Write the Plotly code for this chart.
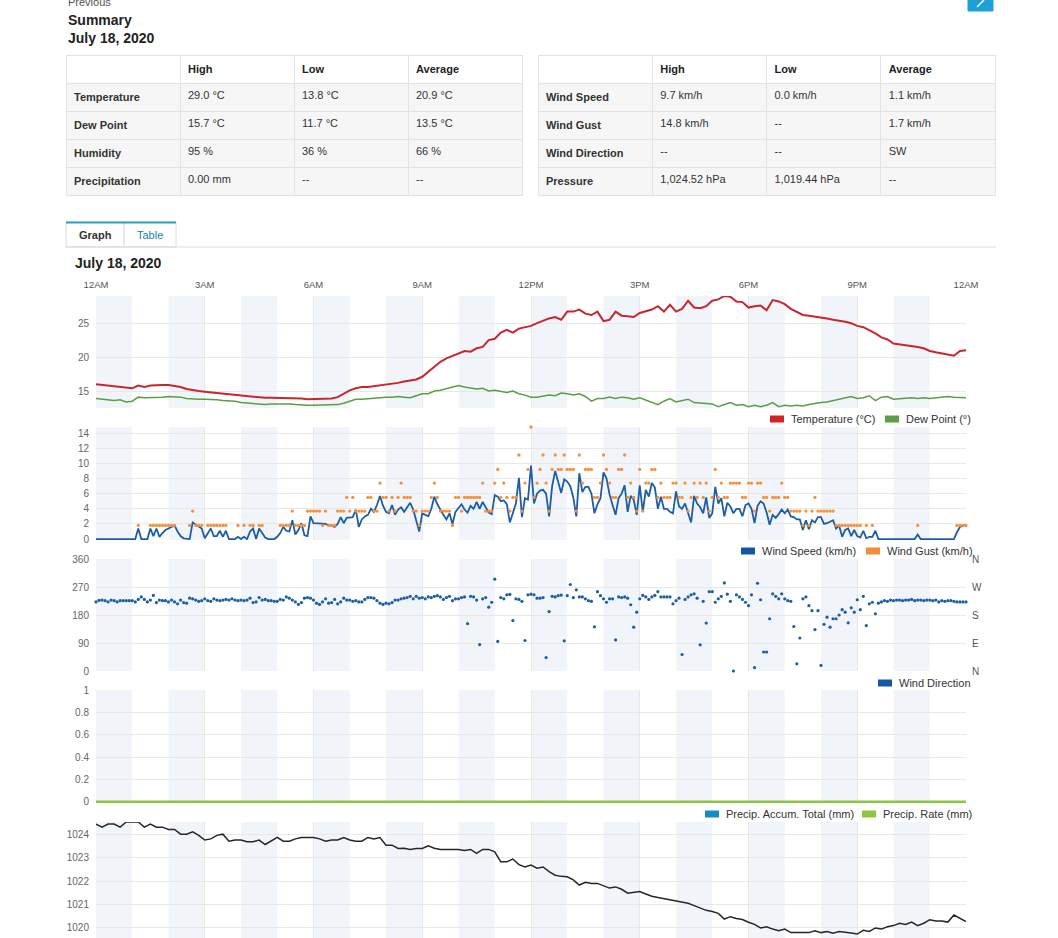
import pandas as pd
import plotly.graph_objects as go

W, H = 1058, 938
FONT = "Liberation Sans, Arial, sans-serif"


def px(x):
    return x / W


def py(y):
    return 1 - y / H


# ---- summary tables ----
left_names = ["Temperature", "Dew Point", "Humidity", "Precipitation"]
left_high = ["29.0 °C", "15.7 °C", "95 %", "0.00 mm"]
left_low = ["13.8 °C", "11.7 °C", "36 %", "--"]
left_avg = ["20.9 °C", "13.5 °C", "66 %", "--"]

right_names = ["Wind Speed", "Wind Gust", "Wind Direction", "Pressure"]
right_high = ["9.7 km/h", "14.8 km/h", "--", "1,024.52 hPa"]
right_low = ["0.0 km/h", "--", "--", "1,019.44 hPa"]
right_avg = ["1.1 km/h", "1.7 km/h", "SW", "--"]

# ---- 10 minute series (00:00 .. 24:00) ----
temperature = [
    16.0, 15.9, 15.8, 15.7, 15.6, 15.5,
    15.4, 15.8, 15.6, 15.8, 15.9, 15.9,
    15.9, 15.8, 15.6, 15.3, 15.1, 15.0,
    14.9, 14.8, 14.7, 14.6, 14.5, 14.4,
    14.3, 14.2, 14.2, 14.1, 14.0, 14.0,
    14.0, 13.9, 13.9, 13.9, 13.9, 13.8,
    13.8, 13.8, 13.8, 13.9, 14.1, 14.6,
    15.1, 15.4, 15.6, 15.6, 15.7, 15.9,
    15.9, 16.0, 16.2, 16.4, 16.5, 16.7,
    17.1, 17.8, 18.5, 19.3, 19.8, 20.2,
    20.6, 20.9, 20.8, 21.3, 21.5, 22.5,
    22.7, 23.6, 24.0, 23.6, 24.2, 24.4,
    24.6, 25.0, 25.4, 25.7, 25.9, 25.5,
    26.7, 26.7, 27.0, 26.4, 26.2, 26.7,
    25.3, 25.5, 26.7, 26.1, 26.0, 25.9,
    26.5, 26.8, 27.0, 27.5, 26.7, 27.7,
    26.7, 27.1, 28.3, 27.3, 27.2, 27.5,
    28.3, 28.5, 29.0, 28.9, 28.2, 28.1,
    27.3, 27.5, 27.6, 26.9, 28.4, 28.2,
    27.8, 27.1, 26.6, 26.2, 26.1, 26.0,
    25.9, 25.7, 25.5, 25.4, 25.2, 25.0,
    24.6, 24.4, 24.0, 23.5, 22.9, 22.6,
    22.0, 21.9, 21.8, 21.7, 21.5, 21.3,
    20.9, 20.7, 20.5, 20.3, 20.2, 20.9,
    21.0,
]

dew_point = [
    13.9, 13.8, 13.7, 13.6, 13.7, 13.4,
    13.5, 14.1, 14.0, 14.0, 14.0, 14.1,
    14.2, 14.2, 14.1, 13.9, 13.8, 13.8,
    13.8, 13.8, 13.7, 13.6, 13.6, 13.5,
    13.3, 13.2, 13.2, 13.1, 13.0, 13.1,
    13.1, 13.2, 13.1, 13.0, 12.9, 12.9,
    12.9, 12.9, 12.9, 12.9, 13.0, 13.2,
    13.5, 13.8, 13.8, 13.9, 14.0, 14.0,
    14.1, 14.1, 14.2, 14.1, 14.0, 14.3,
    14.6, 14.6, 15.0, 15.1, 15.3, 15.5,
    15.8, 15.6, 15.5, 15.3, 15.4, 15.0,
    15.1, 14.9, 14.8, 15.0, 14.6, 14.4,
    14.1, 14.1, 14.3, 14.4, 14.3, 14.7,
    14.6, 14.4, 14.6, 14.2, 13.5, 13.9,
    13.9, 14.1, 13.9, 14.1, 14.0, 13.8,
    14.0, 13.7, 13.4, 13.0, 13.5, 13.9,
    13.4, 13.6, 13.8, 13.3, 13.2, 13.1,
    13.1, 12.7, 13.0, 13.3, 12.9, 13.0,
    12.7, 12.9, 12.7, 12.9, 13.3, 12.7,
    12.9, 12.8, 12.9, 12.8, 13.0, 13.2,
    13.3, 13.4, 13.6, 13.8, 13.9, 14.2,
    13.9, 14.0, 14.3, 13.6, 14.1, 14.2,
    13.8, 13.9, 13.9, 14.0, 13.9, 14.0,
    13.9, 14.0, 14.1, 14.2, 14.1, 14.0,
    14.0,
]

pressure = [
    1024.43, 1024.30, 1024.43, 1024.43, 1024.30, 1024.52,
    1024.52, 1024.52, 1024.30, 1024.43, 1024.30, 1024.30,
    1024.20, 1024.20, 1024.00, 1024.00, 1024.10, 1023.95,
    1023.75, 1023.80, 1023.95, 1024.00, 1023.70, 1023.75,
    1023.75, 1023.68, 1023.68, 1023.75, 1023.56, 1023.70,
    1023.86, 1023.70, 1023.70, 1023.80, 1023.86, 1023.86,
    1023.86, 1023.80, 1023.70, 1023.75, 1023.75, 1023.86,
    1023.75, 1023.70, 1023.70, 1023.86, 1023.80, 1023.86,
    1023.53, 1023.53, 1023.39, 1023.40, 1023.35, 1023.39,
    1023.39, 1023.50, 1023.40, 1023.35, 1023.35, 1023.35,
    1023.35, 1023.30, 1023.35, 1023.18, 1023.35, 1023.35,
    1023.25, 1022.82, 1022.82, 1022.94, 1022.70, 1022.60,
    1022.68, 1022.55, 1022.60, 1022.40, 1022.25, 1022.20,
    1022.18, 1022.05, 1021.83, 1021.95, 1021.90, 1021.90,
    1021.80, 1021.70, 1021.75, 1021.65, 1021.48, 1021.50,
    1021.55, 1021.45, 1021.35, 1021.30, 1021.25, 1021.20,
    1021.12, 1021.10, 1021.05, 1020.95, 1020.85, 1020.75,
    1020.70, 1020.62, 1020.38, 1020.48, 1020.40, 1020.36,
    1020.24, 1020.15, 1020.00, 1020.05, 1019.95, 1019.88,
    1019.95, 1019.80, 1019.80, 1019.80, 1019.80, 1019.88,
    1019.80, 1019.85, 1019.77, 1019.85, 1019.80, 1019.78,
    1019.74, 1019.90, 1019.85, 1020.00, 1019.95, 1020.05,
    1020.10, 1020.20, 1020.15, 1020.25, 1020.10, 1020.20,
    1020.35, 1020.30, 1020.30, 1020.25, 1020.55, 1020.40,
    1020.27,
]

# ---- 5 minute series (00:00 .. 24:00) ----
wind_speed = [
    0, 0, 0, 0, 0, 0, 0, 0, 0, 0, 0, 0,
    0, 0, 1.4, 0, 0, 0, 1.4, 0.4, 1.4, 0.3, 0.8, 1.2,
    1.4, 1.6, 1.8, 1.0, 0.4, 0.1, 0, 0, 2.2, 1.9, 1.6, 1.4,
    0.1, 0.7, 1.4, 0.4, 0.4, 1.1, 0.3, 1.1, 0, 0, 0, 0.3,
    0, 0.3, 0, 1.0, 1.4, 0, 1.4, 0.8, 0.2, 0, 0, 0,
    0.3, 0.8, 1.6, 1.1, 1.0, 2.5, 0.6, 1.2, 2.1, 0.5, 0.4, 3.0,
    2.1, 2.1, 2.1, 2.1, 2.0, 1.8, 1.8, 1.6, 2.0, 2.9, 2.1, 2.8,
    2.9, 2.9, 3.9, 1.6, 2.6, 3.0, 3.2, 4.0, 3.6, 4.5, 5.7, 4.4,
    3.6, 3.4, 4.5, 3.2, 3.9, 4.2, 3.6, 4.2, 4.8, 3.9, 2.6, 1.0,
    3.4, 3.2, 3.0, 4.0, 5.6, 4.6, 3.8, 3.2, 2.6, 3.4, 2.0, 3.6,
    4.1, 4.6, 3.9, 3.5, 4.4, 4.0, 4.9, 4.0, 4.9, 4.2, 3.5, 3.3,
    5.8, 5.6, 5.0, 5.1, 4.6, 2.2, 3.4, 4.7, 8.1, 2.9, 5.4, 5.2,
    9.7, 4.7, 6.0, 6.4, 6.5, 6.0, 3.0, 7.0, 9.0, 7.6, 6.1, 7.9,
    7.6, 7.0, 5.5, 3.0, 8.7, 6.2, 6.9, 6.9, 6.0, 3.4, 4.6, 5.4,
    8.8, 8.0, 5.9, 4.5, 3.2, 5.4, 6.0, 7.1, 3.6, 5.7, 5.2, 3.2,
    7.1, 3.6, 6.5, 5.6, 7.4, 6.8, 4.0, 5.6, 4.0, 4.0, 3.6, 3.4,
    6.3, 4.3, 4.0, 4.7, 3.5, 2.2, 5.7, 4.7, 4.2, 3.4, 5.5, 2.8,
    3.4, 6.9, 4.7, 5.4, 3.0, 4.8, 4.3, 3.4, 4.0, 4.0, 3.0, 4.5,
    4.7, 4.0, 2.1, 4.4, 5.0, 4.7, 3.5, 1.9, 3.2, 2.8, 3.3, 3.9,
    3.4, 3.9, 3.0, 2.9, 2.6, 2.6, 1.2, 2.5, 1.3, 2.5, 2.2, 2.9,
    2.9, 2.0, 2.1, 2.3, 2.5, 1.4, 1.8, 0.3, 1.2, 1.4, 0.4, 1.2,
    0.4, 0.2, 1.1, 0.1, 0.3, 0.3, 1.1, 0, 0, 0, 0, 0,
    0, 0, 0, 0, 0, 0, 0, 0, 0.6, 0, 0, 0,
    0, 0, 0, 0, 0, 0, 0, 0, 0, 0.9, 1.6, 1.8,
    1.8,
]

N = None
wind_gust = [
    N, N, N, N, N, N, N, N, N, N, N, N,
    N, N, 1.8, N, N, N, 1.8, 1.8, 1.8, 1.8, 1.8, 1.8,
    1.8, 1.8, 1.8, N, N, N, N, 1.8, 3.7, 1.8, 1.8, 1.8,
    N, 1.8, 1.8, 1.8, 1.8, 1.8, 1.8, 1.8, N, N, N, 1.8,
    N, 1.8, N, 1.8, 1.8, N, 1.8, 1.8, N, N, N, N,
    N, 1.8, 1.8, 1.8, 1.8, 3.7, 1.8, 1.8, 1.8, 1.8, 3.7, 3.7,
    3.7, 3.7, 3.7, 1.8, 3.7, 1.8, 1.8, 1.8, 3.7, 3.7, 3.7, 5.5,
    3.7, 5.5, 3.7, 3.7, 3.7, 3.7, 5.5, 5.5, 3.7, 3.7, 7.4, 5.5,
    5.5, 3.7, 5.5, 3.7, 5.5, 7.4, 5.5, 5.5, 5.5, 3.7, 3.7, 1.8,
    3.7, 3.7, 3.7, 5.5, 7.4, 5.5, 3.7, 3.7, 3.7, 3.7, 1.8, 5.5,
    5.5, 3.7, 5.5, 5.5, 5.5, 5.5, 5.5, 5.5, 7.4, 3.7, 3.7, 3.7,
    7.4, 9.2, 5.5, 7.4, 5.5, 3.7, 5.5, 5.5, 11.1, 3.7, 7.4, 9.2,
    14.8, 5.5, 7.4, 9.2, 11.1, 7.4, 3.7, 9.2, 11.1, 9.2, 9.2, 11.1,
    9.2, 9.2, 9.2, 3.7, 11.1, 7.4, 9.2, 9.2, 9.2, 5.5, 5.5, 7.4,
    11.1, 9.2, 7.4, 5.5, 5.5, 9.2, 9.2, 11.1, 5.5, 7.4, 5.5, 3.7,
    9.2, 3.7, 7.4, 7.4, 9.2, 9.2, 5.5, 7.4, 5.5, 5.5, 5.5, 7.4,
    7.4, 5.5, 5.5, 7.4, 3.7, 5.5, 7.4, 5.5, 7.4, 5.5, 7.4, 3.7,
    5.5, 9.2, 5.5, 7.4, 5.5, 5.5, 7.4, 7.4, 7.4, 7.4, 5.5, 5.5,
    7.4, 7.4, 3.7, 7.4, 7.4, 5.5, 5.5, 3.7, 5.5, 5.5, 5.5, 7.4,
    5.5, 5.5, 3.7, 3.7, 3.7, 3.7, 1.8, 3.7, 1.8, 3.7, 5.5, 3.7,
    3.7, 3.7, 3.7, 3.7, 3.7, 1.8, 1.8, 1.8, 1.8, 1.8, 1.8, 1.8,
    1.8, 1.8, N, 1.8, N, 1.8, N, N, N, N, N, N,
    N, N, N, N, N, N, N, N, 1.8, N, N, N,
    N, N, N, N, N, N, N, N, N, 1.8, 1.8, 1.8,
    1.8,
]

wind_dir = [
    222, 227, 228, 226, 222, 228, 226, 222, 226, 226, 226, 226,
    226, 222, 230, 238, 230, 222, 228, 243, 220, 228, 226, 226,
    222, 228, 222, 216, 228, 220, 218, 234, 232, 228, 224, 226,
    232, 226, 224, 232, 228, 226, 228, 230, 228, 232, 228, 226,
    228, 226, 228, 234, 220, 222, 236, 228, 230, 226, 226, 224,
    224, 230, 228, 238, 234, 228, 222, 214, 220, 234, 236, 234,
    228, 218, 214, 222, 232, 218, 220, 230, 216, 222, 234, 228,
    228, 224, 226, 222, 222, 230, 236, 236, 234, 226, 218, 214,
    218, 216, 220, 228, 228, 232, 234, 236, 240, 232, 240, 234,
    236, 232, 238, 236, 240, 242, 238, 230, 236, 240, 226, 232,
    232, 236, 238, 152, 240, 238, 228, 85, 232, 236, 205, 221,
    295, 95, 236, 232, 245, 246, 162, 232, 230, 224, 98, 245,
    247, 245, 234, 234, 236, 43, 191, 240, 238, 242, 244, 97,
    242, 278, 236, 261, 238, 238, 232, 226, 224, 142, 255, 242,
    232, 221, 232, 232, 100, 238, 236, 238, 234, 213, 141, 189,
    232, 243, 238, 230, 238, 243, 255, 238, 238, 238, 238, 216,
    226, 234, 53, 230, 238, 245, 248, 234, 84, 224, 154, 255,
    255, 221, 232, 240, 283, 247, 224, 0, 245, 238, 230, 221,
    210, 245, 11, 282, 229, 61, 61, 168, 248, 240, 232, 248,
    232, 226, 224, 143, 23, 106, 232, 238, 210, 194, 133, 194,
    18, 150, 173, 141, 168, 168, 180, 197, 189, 155, 203, 189,
    229, 197, 240, 146, 216, 221, 184, 218, 222, 226, 224, 228,
    226, 228, 228, 226, 228, 228, 230, 226, 228, 228, 226, 228,
    228, 226, 228, 222, 226, 224, 226, 226, 224, 222, 222, 222,
    222,
]

# hourly precipitation (all zero)
precip_total = [0.00, 0.00, 0.00, 0.00, 0.00, 0.00, 0.00, 0.00, 0.00, 0.00, 0.00, 0.00, 0.00,
                0.00, 0.00, 0.00, 0.00, 0.00, 0.00, 0.00, 0.00, 0.00, 0.00, 0.00, 0.00]
precip_rate = [0.00, 0.00, 0.00, 0.00, 0.00, 0.00, 0.00, 0.00, 0.00, 0.00, 0.00, 0.00, 0.00,
               0.00, 0.00, 0.00, 0.00, 0.00, 0.00, 0.00, 0.00, 0.00, 0.00, 0.00, 0.00]

t10 = pd.date_range("2020-07-18 00:00", periods=len(temperature), freq="10min")
t5 = pd.date_range("2020-07-18 00:00", periods=len(wind_speed), freq="5min")
t60 = pd.date_range("2020-07-18 00:00", periods=len(precip_rate), freq="60min")
day0 = pd.Timestamp("2020-07-18 00:00")
day1 = pd.Timestamp("2020-07-19 00:00")

fig = go.Figure()


def summary_table(x0, x1, names, high, low, avg):
    return go.Table(
        domain=dict(x=[px(x0), px(x1)], y=[py(200), py(55)]),
        header=dict(values=["", "<b>High</b>", "<b>Low</b>", "<b>Average</b>"],
                    align="left", height=28, fill_color="white",
                    line=dict(color="#e2e2e2", width=1),
                    font=dict(family=FONT, size=11, color="#222")),
        cells=dict(values=[["<b>%s</b>" % n for n in names], high, low, avg],
                   align="left", height=28, fill_color="#f6f6f6",
                   line=dict(color="#e2e2e2", width=1),
                   font=dict(family=FONT, size=11, color="#333")),
    )


fig.add_trace(summary_table(66, 522, left_names, left_high, left_low, left_avg))
fig.add_trace(summary_table(538, 995, right_names, right_high, right_low, right_avg))

# ---- chart traces ----
fig.add_trace(go.Scatter(x=t10, y=temperature, mode="lines", line=dict(color="#c8262f", width=2),
                         xaxis="x", yaxis="y", showlegend=False, hoverinfo="skip"))
fig.add_trace(go.Scatter(x=t10, y=dew_point, mode="lines", line=dict(color="#5b9d44", width=1.5),
                         xaxis="x", yaxis="y", showlegend=False, hoverinfo="skip"))

fig.add_trace(go.Scatter(x=t5, y=wind_speed, mode="lines", line=dict(color="#1b5ea6", width=1.8),
                         xaxis="x2", yaxis="y2", showlegend=False, hoverinfo="skip"))
fig.add_trace(go.Scatter(x=t5, y=wind_gust, mode="markers", marker=dict(color="#f5913c", size=3.3),
                         xaxis="x2", yaxis="y2", showlegend=False, hoverinfo="skip", cliponaxis=False))

fig.add_trace(go.Scatter(x=t5, y=wind_dir, mode="markers", marker=dict(color="#1b5ea6", size=3.2),
                         xaxis="x3", yaxis="y3", showlegend=False, hoverinfo="skip", cliponaxis=False))

fig.add_trace(go.Scatter(x=t60, y=precip_total, mode="lines", line=dict(color="#1a8dc5", width=2),
                         xaxis="x4", yaxis="y4", showlegend=False, hoverinfo="skip"))
fig.add_trace(go.Scatter(x=t60, y=precip_rate, mode="lines", line=dict(color="#8cc63e", width=3),
                         xaxis="x4", yaxis="y4", showlegend=False, hoverinfo="skip"))

fig.add_trace(go.Scatter(x=t10, y=pressure, mode="lines", line=dict(color="#262626", width=1.5),
                         xaxis="x5", yaxis="y5", showlegend=False, hoverinfo="skip"))

# ---- axes ----
grid = "#e8e8e8"
tickfont = dict(family=FONT, size=10, color="#666")
panels = [
    # (top px, bottom px, range, tickvals, suffix)
    (296, 408, [12.5, 29.0], [15, 20, 25], ""),
    (427, 540, [-0.12, 14.8], [0, 2, 4, 6, 8, 10, 12, 14], ""),
    (559, 671, [0, 360], [0, 90, 180, 270, 360], "°"),
    (690, 803, [-0.01, 1], [0, 0.2, 0.4, 0.6, 0.8, 1], ""),
    (822, 938, [1019.57, 1024.52], [1020, 1021, 1022, 1023, 1024], ""),
]

shapes = []
for k, (top, bottom, rng, tv, suf) in enumerate(panels, start=1):
    xa = "xaxis" if k == 1 else "xaxis%d" % k
    ya = "yaxis" if k == 1 else "yaxis%d" % k
    xid = "x" if k == 1 else "x%d" % k
    yid = "y" if k == 1 else "y%d" % k
    fig.layout[xa] = dict(
        domain=[px(96), px(966)], anchor=yid, type="date", range=[day0, day1],
        tick0=day0, dtick=3 * 3600 * 1000, tickformat="%-I%p",
        showgrid=True, gridcolor=grid, gridwidth=1, zeroline=False, showline=False,
        showticklabels=(k == 1), side="top", ticks="outside", ticklen=3,
        tickcolor="rgba(0,0,0,0)", tickfont=dict(family=FONT, size=9.5, color="#555"),
        matches=None if k == 1 else "x", fixedrange=True, automargin=False,
    )
    fig.layout[ya] = dict(
        domain=[py(bottom), py(top)], anchor=xid, range=rng, tickvals=tv, ticksuffix=suf,
        showgrid=True, gridcolor=grid, gridwidth=1, zeroline=False, showline=False,
        ticks="outside", ticklen=4, tickcolor="rgba(0,0,0,0)", tickfont=tickfont,
        fixedrange=True, automargin=False,
    )
    # alternate hour shading
    for h in range(0, 24, 2):
        shapes.append(dict(type="rect", xref=xid, yref="%s domain" % yid,
                           x0=day0 + pd.Timedelta(hours=h), x1=day0 + pd.Timedelta(hours=h + 1),
                           y0=0, y1=1, fillcolor="#f1f5fa", line=dict(width=0), layer="below"))

# tabs and page decorations
shapes += [
    dict(type="rect", xref="paper", yref="paper", x0=px(66), x1=px(124), y0=py(247), y1=py(222),
         line=dict(color="#dcdcdc", width=1), fillcolor="white"),
    dict(type="rect", xref="paper", yref="paper", x0=px(124), x1=px(176), y0=py(247), y1=py(222),
         line=dict(color="#dcdcdc", width=1), fillcolor="white"),
    dict(type="line", xref="paper", yref="paper", x0=px(66), x1=px(176), y0=py(222.5), y1=py(222.5),
         line=dict(color="#2aa0c8", width=2)),
    dict(type="line", xref="paper", yref="paper", x0=px(66), x1=px(996), y0=py(247), y1=py(247),
         line=dict(color="#dcdcdc", width=1)),
    dict(type="rect", xref="paper", yref="paper", x0=px(968), x1=px(993), y0=py(11), y1=py(-6),
         line=dict(color="#1e9fd8", width=1), fillcolor="#1e9fd8"),
    dict(type="line", xref="paper", yref="paper", x0=px(977), x1=px(984), y0=py(7), y1=py(0),
         line=dict(color="white", width=1.5)),
]

annotations = [
    dict(text="Previous", x=px(66), y=py(2.5), xanchor="left", yanchor="middle",
         font=dict(family=FONT, size=11, color="#555")),
    dict(text="<b>Summary</b>", x=px(66), y=py(20), xanchor="left", yanchor="middle",
         font=dict(family=FONT, size=14, color="#222")),
    dict(text="<b>July 18, 2020</b>", x=px(66), y=py(38), xanchor="left", yanchor="middle",
         font=dict(family=FONT, size=14, color="#222")),
    dict(text="<b>Graph</b>", x=px(95), y=py(235), xanchor="center", yanchor="middle",
         font=dict(family=FONT, size=11, color="#333")),
    dict(text="Table", x=px(150), y=py(235), xanchor="center", yanchor="middle",
         font=dict(family=FONT, size=11, color="#1b7fa6")),
    dict(text="<b>July 18, 2020</b>", x=px(73), y=py(263), xanchor="left", yanchor="middle",
         font=dict(family=FONT, size=14, color="#222")),
]
for deg, lab in zip([0, 90, 180, 270, 360], ["N", "E", "S", "W", "N"]):
    annotations.append(dict(text=lab, xref="paper", yref="y3", x=px(970), y=deg,
                            xanchor="left", yanchor="middle",
                            font=dict(family=FONT, size=10, color="#555")))

# legends drawn as swatch + label, as on the page
legend_items = [
    # (label, colour, swatch left px, row y px)
    ("Temperature (°C)", "#d2232a", 770, 419),
    ("Dew Point (°)", "#5aa045", 885, 419),
    ("Wind Speed (km/h)", "#1557a6", 741, 551),
    ("Wind Gust (km/h)", "#f68c3a", 866, 551),
    ("Wind Direction", "#1557a6", 878, 683),
    ("Precip. Accum. Total (mm)", "#1989c4", 705, 814),
    ("Precip. Rate (mm)", "#8dc63f", 862, 814),
]
for label, color, lx, ly in legend_items:
    shapes.append(dict(type="rect", xref="paper", yref="paper",
                       x0=px(lx), x1=px(lx + 14), y0=py(ly + 3.5), y1=py(ly - 3.5),
                       fillcolor=color, line=dict(width=0)))
    annotations.append(dict(text=label, x=px(lx + 19), y=py(ly), xanchor="left", yanchor="middle",
                            font=dict(family=FONT, size=11, color="#333")))

for a in annotations:
    a.setdefault("xref", "paper")
    a.setdefault("yref", "paper")
    a["showarrow"] = False

fig.update_layout(
    width=W, height=H, autosize=False,
    margin=dict(l=0, r=0, t=0, b=0, pad=0, autoexpand=False),
    paper_bgcolor="white", plot_bgcolor="white",
    font=dict(family=FONT, size=11, color="#333"),
    shapes=shapes, annotations=annotations,
    showlegend=False, hovermode=False,
)

# the page is a full-window screenshot: drop the default body margin
fig.write_html("out.html", config={"displayModeBar": False, "staticPlot": True},
               post_script="document.body.style.margin='0';document.body.style.overflow='hidden';")
